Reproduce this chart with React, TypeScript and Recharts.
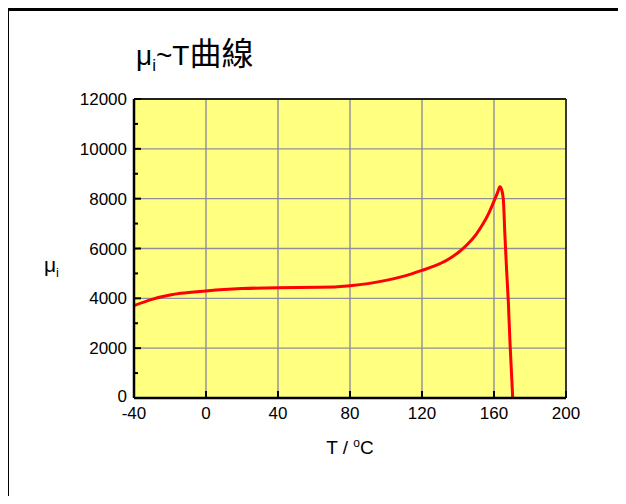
import React from 'react';
import { LineChart, Line, XAxis, YAxis, CartesianGrid, ReferenceLine } from 'recharts';

// temperature (°C) and initial permeability
const T_VALUES = [-40, -30, -20, -14, 0, 10, 20, 40, 63, 80, 90, 100, 110, 120, 127, 134, 140, 145, 150, 154, 157, 160, 162, 163.3, 164.3, 165.2, 166.1, 167, 168, 168.9, 170.4];
const MU_VALUES = [3710, 3960, 4130, 4200, 4295, 4350, 4390, 4428, 4441, 4508, 4590, 4720, 4890, 5120, 5300, 5540, 5830, 6150, 6560, 7000, 7400, 7900, 8250, 8480, 8350, 7950, 6470, 5140, 3800, 2200, 0];

const X_TICKS = [-40, 0, 40, 80, 120, 160, 200];
const Y_TICKS = [0, 1000, 2000, 3000, 4000, 5000, 6000, 7000, 8000, 9000, 10000, 11000, 12000];
const X_GRID = [0, 40, 80, 120, 160];
const Y_GRID = [2000, 4000, 6000, 8000, 10000];

const data = T_VALUES.map((t, i) => ({ t, mu: MU_VALUES[i] }));

const W = 626;
const H = 504;
const PLOT_LEFT = 134;
const PLOT_RIGHT = 566;
const PLOT_TOP = 99;
const PLOT_BOTTOM = 398;
const FONT = '"Liberation Sans", Arial, "Noto Sans CJK TC", sans-serif';

const YTick = (props: any) => {
    const { y, payload } = props;
    const v = payload.value;
    const major = v % 2000 === 0;
    return (
        <g>
            <line x1={PLOT_LEFT} x2={PLOT_LEFT + (major ? 7 : 4)} y1={y} y2={y} stroke="#000" strokeWidth={2} />
            {major && (
                <text x={PLOT_LEFT - 7} y={v === 0 ? y - 2 : y} dy="0.36em" textAnchor="end" fontSize={17} fontFamily={FONT} fill="#000">
                    {v}
                </text>
            )}
        </g>
    );
};

const XTick = (props: any) => {
    const { x, payload } = props;
    return (
        <g>
            <line x1={x} x2={x} y1={PLOT_BOTTOM} y2={PLOT_BOTTOM - 7} stroke="#000" strokeWidth={2} />
            <text x={x} y={PLOT_BOTTOM + 21} textAnchor="middle" fontSize={17} fontFamily={FONT} fill="#000">
                {payload.value}
            </text>
        </g>
    );
};

export default function App() {
    return (
        <div style={{ position: 'relative', width: W, height: H, margin: -8, background: '#fff', overflow: 'hidden' }}>
            {/* outer frame */}
            <div style={{ position: 'absolute', left: 6, top: 8, width: W, height: H, borderLeft: '3px solid #000', borderTop: '3px solid #000' }} />

            <LineChart width={W} height={H} data={data} margin={{ top: PLOT_TOP, right: W - PLOT_RIGHT, bottom: 0, left: 0 }}>
                <CartesianGrid
                    fill="#ffff80"
                    stroke="#8e8e9c"
                    strokeWidth={1.4}
                    horizontalValues={Y_GRID}
                    verticalValues={X_GRID}
                />
                <XAxis
                    dataKey="t"
                    type="number"
                    domain={[-40, 200]}
                    ticks={X_TICKS}
                    interval={0}
                    height={H - PLOT_BOTTOM}
                    tickLine={false}
                    axisLine={{ stroke: '#000', strokeWidth: 2.5 }}
                    tick={<XTick />}
                />
                <YAxis
                    type="number"
                    domain={[0, 12000]}
                    ticks={Y_TICKS}
                    interval={0}
                    width={PLOT_LEFT}
                    tickLine={false}
                    axisLine={{ stroke: '#000', strokeWidth: 2.5 }}
                    tick={<YTick />}
                />
                <ReferenceLine y={12000} stroke="#222" strokeWidth={1.8} />
                <ReferenceLine x={200} stroke="#222" strokeWidth={1.8} />
                <Line
                    type="monotone"
                    dataKey="mu"
                    stroke="#ff0000"
                    strokeWidth={3}
                    dot={false}
                    isAnimationActive={false}
                />
            </LineChart>

            {/* title */}
            <div style={{ position: 'absolute', left: 136, top: 37, fontFamily: FONT, fontSize: 28, lineHeight: '34px', color: '#000', whiteSpace: 'nowrap' }}>
                μ<span style={{ fontSize: 17, position: 'relative', top: 6 }}>i</span>~T<span style={{ fontSize: 32 }}>曲線</span>
            </div>

            {/* y label */}
            <div style={{ position: 'absolute', left: 44, top: 253, fontFamily: FONT, fontSize: 21, lineHeight: '24px', color: '#000' }}>
                μ<span style={{ fontSize: 13, position: 'relative', top: 5 }}>i</span>
            </div>

            {/* x label */}
            <div style={{ position: 'absolute', left: 0, width: 700, top: 437, textAlign: 'center', fontFamily: FONT, fontSize: 19, lineHeight: '22px', color: '#000' }}>
                T / <span style={{ fontSize: 12, position: 'relative', top: -7 }}>o</span>C
            </div>
        </div>
    );
}
